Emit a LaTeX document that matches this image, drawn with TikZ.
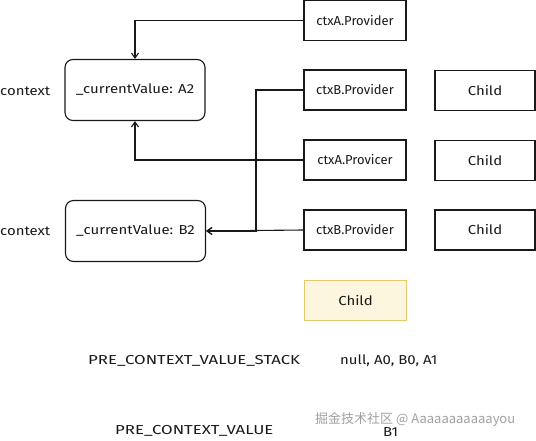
\documentclass[tikz,border=0pt]{standalone}
\usepackage{fontspec}
\setmainfont{Fira Sans}
\newfontfamily\widefont{Fira Sans}[FakeStretch=1.15]
\newfontfamily\capsfont{Fira Sans}[FakeStretch=1.29]
\newfontfamily\cjk{Noto Sans CJK SC}
\usetikzlibrary{arrows.meta}
\definecolor{ink}{RGB}{25,25,25}
\definecolor{yfill}{RGB}{252,246,222}
\definecolor{ydraw}{RGB}{228,200,110}
\definecolor{wm}{RGB}{160,160,160}
\tikzset{
  lbl/.style={font=\fontsize{13}{15}\selectfont, text=ink},
  wlbl/.style={font=\widefont\fontsize{13}{15}\selectfont, text=ink},
  clbl/.style={font=\capsfont\fontsize{13}{15}\selectfont, text=ink},
  sqbox/.style={draw=ink, line width=1.1pt, minimum width=102pt, minimum height=40pt, lbl},
  rbox/.style={draw=ink, line width=1.1pt, rounded corners=8pt, minimum width=140pt, minimum height=61pt, wlbl},
  ybox/.style={sqbox, draw=ydraw, fill=yfill},
  conn/.style={draw=ink, line width=1.1pt, -{Straight Barb[length=5pt,width=7pt,line width=1.1pt]}},
}
\begin{document}
\begin{tikzpicture}[x=1pt,y=-1pt]
\useasboundingbox (0,0) rectangle (536,441);
% providers
\node[sqbox] (pa1) at (355,20.5) {ctxA.Provider};
\node[sqbox] (pb1) at (355,90) {ctxB.Provider};
\node[sqbox] (pa2) at (355,160) {ctxA.Provicer};
\node[sqbox] (pb2) at (355,230) {ctxB.Provider};
% children
\node[sqbox, wlbl, minimum width=100pt] (c1) at (485,90.5) {Child};
\node[sqbox, wlbl, minimum width=100pt] (c2) at (485,160.5) {Child};
\node[sqbox, wlbl, minimum width=100pt] (c3) at (485,230) {Child};
\node[ybox, wlbl] (cy) at (355.5,300.5) {Child};
% contexts
\node[rbox] (ca) at (135,90) {\_currentValue: A2};
\node[rbox] (cb) at (135.5,231) {\_currentValue: B2};
\node[wlbl, anchor=west, inner sep=0pt] (la) at (0,91) {context};
\node[wlbl, anchor=west, inner sep=0pt] (lb) at (0,231) {context};
% connectors
\coordinate (j) at (256,90);
\draw[conn] (pa1.west) -| (ca.north);
\draw[conn] (pa2.west) -| (ca.south);
\draw[conn] (pb1.west) -- (j) |- (cb.east);
\draw[conn] (pb2.west) -- (cb.east);
% bottom texts
\node[clbl, anchor=west, inner sep=0pt] (s1) at (88,361) {PRE\_CONTEXT\_VALUE\_STACK};
\node[wlbl, anchor=west, inner sep=0pt] (s2) at (340,361) {null, A0, B0, A1};
\node[clbl, anchor=west, inner sep=0pt] (v1) at (115,431) {PRE\_CONTEXT\_VALUE};
\node[font=\cjk\fontsize{13}{15}\selectfont, text=wm, anchor=west, inner sep=0pt] (w) at (315,420) {掘金技术社区 @ Aaaaaaaaaaayou};
\node[wlbl, anchor=west, inner sep=0pt] (v2) at (383,432) {B1};
\end{tikzpicture}
\end{document}
